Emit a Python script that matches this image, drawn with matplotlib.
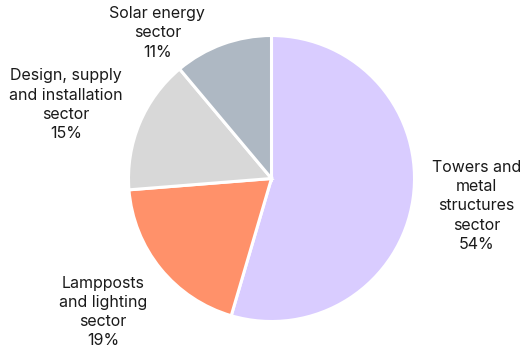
import matplotlib.pyplot as plt
import numpy as np

plt.rcParams['font.family'] = ['Inter', 'DejaVu Sans']

labels = ["Towers and\nmetal\nstructures\nsector", "Lampposts\nand lighting\nsector",
          "Design, supply\nand installation\nsector", "Solar energy\nsector"]
shares = [54, 19, 15, 11]
colors = ["#D9CCFF", "#FF916A", "#D8D8D8", "#AEB8C3"]

# label placement (distance in radii, angle in degrees)
label_pos = [(1.446, -7.6), (1.503, -141.6), (1.526, 160.3), (1.293, 128.1)]

fig = plt.figure(figsize=(5.21, 3.52), dpi=100)
ax = fig.add_axes([0, 0, 1, 1])

cx, cy, r = 271.5, 352 - 178.5, 143
ax.pie(shares, colors=colors, startangle=90, counterclock=False,
       center=(cx, cy), radius=r, frame=True,
       wedgeprops=dict(edgecolor="white", linewidth=2.2))
ax.set_xlim(0, 521)
ax.set_ylim(0, 352)
ax.axis("off")

for lab, s, (d, a) in zip(labels, shares, label_pos):
    x = cx + d * r * np.cos(np.radians(a))
    y = cy + d * r * np.sin(np.radians(a))
    ax.text(x, y, f"{lab}\n{s}%", ha="center", va="center",
            fontsize=11.5, color="#1A1A1A", linespacing=1.36)

fig.savefig("out.png", dpi=100)
